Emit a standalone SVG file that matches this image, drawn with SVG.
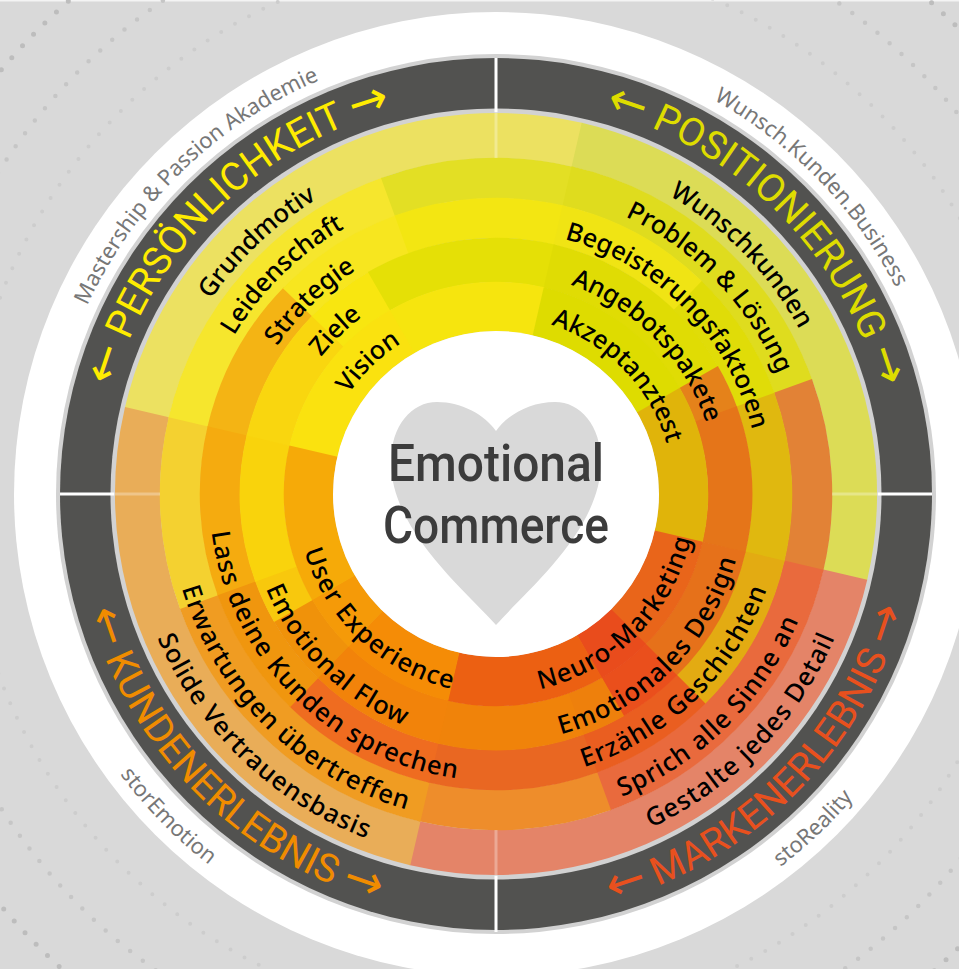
<svg xmlns="http://www.w3.org/2000/svg" width="959" height="969" viewBox="0 0 959 969">
<style>
.dot{fill:none;stroke-linecap:round;stroke-dasharray:0 16}
.seg{fill:none}
text{font-family:"Noto Sans",Roboto,sans-serif}
.l{font-size:25.5px;font-weight:500;fill:#000;text-anchor:middle}
.b{letter-spacing:1px}
.t{font-size:39px;text-anchor:middle;font-family:Roboto,sans-serif}
.a{font-family:"DejaVu Sans",sans-serif;font-size:47px}
.g{font-size:22px;fill:#777;text-anchor:middle}
.c{font-size:52px;font-weight:500;fill:#3c3c3c;text-anchor:middle;font-family:Roboto,sans-serif}
</style>
<defs>
<path id="t178" d="M318 494A178 178 0 0 1 674 494"/>
<path id="t222" d="M274 494A222 222 0 0 1 718 494"/>
<path id="t264" d="M232 494A264 264 0 0 1 760 494"/>
<path id="t306" d="M190 494A306 306 0 0 1 802 494"/>
<path id="t345" d="M151 494A345 345 0 0 1 841 494"/>
<path id="t398" d="M98 494A398 398 0 0 1 894 494"/>
<path id="t450" d="M46 494A450 450 0 0 1 946 494"/>
<path id="b200" d="M296 494A200 200 0 0 0 696 494"/>
<path id="b249" d="M247 494A249 249 0 0 0 745 494"/>
<path id="b287" d="M209 494A287 287 0 0 0 783 494"/>
<path id="b328" d="M168 494A328 328 0 0 0 824 494"/>
<path id="b368" d="M128 494A368 368 0 0 0 864 494"/>
<path id="b424" d="M72 494A424 424 0 0 0 920 494"/>
<path id="b469" d="M27 494A469 469 0 0 0 965 494"/>
</defs>
<rect width="959" height="969" fill="#d9d9d9"/>
<rect width="959" height="1.5" fill="#f4f4f4"/>
<g id="dots">
<circle class="dot" cx="499" cy="488" r="650" stroke="#bdbdbd" stroke-width="5"/>
<circle class="dot" cx="499" cy="488" r="592" stroke="#c6c6c6" stroke-width="4.5"/>
<circle class="dot" cx="499" cy="488" r="534" stroke="#cdcdcd" stroke-width="4"/>
</g>
<circle cx="496" cy="494" r="482" fill="#fff"/>
<circle cx="496" cy="494" r="440" fill="#d2d2d2"/>
<circle cx="496" cy="494" r="436" fill="#525250"/>
<circle cx="496" cy="494" r="385.5" fill="#d2d2d2"/>
<g id="ring-a" class="seg" stroke-width="45">
<circle cx="496" cy="494" r="358.5" pathLength="360" stroke-dasharray="90.2 360" stroke="#ece161" transform="rotate(193 496 494)" fill="none"/>
<circle cx="496" cy="494" r="358.5" pathLength="360" stroke-dasharray="90.2 360" stroke="#dcdc56" transform="rotate(-77 496 494)" fill="none"/>
<circle cx="496" cy="494" r="358.5" pathLength="360" stroke-dasharray="90.2 360" stroke="#e48468" transform="rotate(13 496 494)" fill="none"/>
<circle cx="496" cy="494" r="358.5" pathLength="360" stroke-dasharray="90.2 360" stroke="#e9ad58" transform="rotate(103 496 494)" fill="none"/>
</g>
<g id="ring-b" class="seg" stroke-width="40.5">
<circle cx="496" cy="494" r="316" pathLength="360" stroke-dasharray="57.2 360" stroke="#f6e62d" transform="rotate(193 496 494)" fill="none"/>
<circle cx="496" cy="494" r="316" pathLength="360" stroke-dasharray="33.2 360" stroke="#e3df24" transform="rotate(250 496 494)" fill="none"/>
<circle cx="496" cy="494" r="316" pathLength="360" stroke-dasharray="57.2 360" stroke="#dfdc1e" transform="rotate(-77 496 494)" fill="none"/>
<circle cx="496" cy="494" r="316" pathLength="360" stroke-dasharray="33.2 360" stroke="#e28236" transform="rotate(-20 496 494)" fill="none"/>
<circle cx="496" cy="494" r="316" pathLength="360" stroke-dasharray="57.2 360" stroke="#e96a3d" transform="rotate(13 496 494)" fill="none"/>
<circle cx="496" cy="494" r="316" pathLength="360" stroke-dasharray="33.2 360" stroke="#ee8d2b" transform="rotate(70 496 494)" fill="none"/>
<circle cx="496" cy="494" r="316" pathLength="360" stroke-dasharray="57.2 360" stroke="#f09c22" transform="rotate(103 496 494)" fill="none"/>
<circle cx="496" cy="494" r="316" pathLength="360" stroke-dasharray="33.2 360" stroke="#f4d130" transform="rotate(160 496 494)" fill="none"/>
</g>
<g id="ring-c" class="seg" stroke-width="40.5">
<circle cx="496" cy="494" r="276" pathLength="360" stroke-dasharray="31.2 360" stroke="#f4b414" transform="rotate(193 496 494)" fill="none"/>
<circle cx="496" cy="494" r="276" pathLength="360" stroke-dasharray="26.2 360" stroke="#f7e61f" transform="rotate(224 496 494)" fill="none"/>
<circle cx="496" cy="494" r="276" pathLength="360" stroke-dasharray="33.2 360" stroke="#f3e612" transform="rotate(250 496 494)" fill="none"/>
<circle cx="496" cy="494" r="276" pathLength="360" stroke-dasharray="31.2 360" stroke="#f0e414" transform="rotate(-77 496 494)" fill="none"/>
<circle cx="496" cy="494" r="276" pathLength="360" stroke-dasharray="26.2 360" stroke="#e0dc08" transform="rotate(-46 496 494)" fill="none"/>
<circle cx="496" cy="494" r="276" pathLength="360" stroke-dasharray="33.2 360" stroke="#e0b80f" transform="rotate(-20 496 494)" fill="none"/>
<circle cx="496" cy="494" r="276" pathLength="360" stroke-dasharray="32.2 360" stroke="#e3ab12" transform="rotate(13 496 494)" fill="none"/>
<circle cx="496" cy="494" r="276" pathLength="360" stroke-dasharray="25.2 360" stroke="#ea5e20" transform="rotate(45 496 494)" fill="none"/>
<circle cx="496" cy="494" r="276" pathLength="360" stroke-dasharray="33.2 360" stroke="#e96722" transform="rotate(70 496 494)" fill="none"/>
<circle cx="496" cy="494" r="276" pathLength="360" stroke-dasharray="31.2 360" stroke="#ef6c20" transform="rotate(103 496 494)" fill="none"/>
<circle cx="496" cy="494" r="276" pathLength="360" stroke-dasharray="26.2 360" stroke="#f0960e" transform="rotate(134 496 494)" fill="none"/>
<circle cx="496" cy="494" r="276" pathLength="360" stroke-dasharray="33.2 360" stroke="#f5ab0f" transform="rotate(160 496 494)" fill="none"/>
</g>
<g id="ring-d" class="seg" stroke-width="44.5">
<circle cx="496" cy="494" r="234" pathLength="360" stroke-dasharray="31.2 360" stroke="#f9d60f" transform="rotate(193 496 494)" fill="none"/>
<circle cx="496" cy="494" r="234" pathLength="360" stroke-dasharray="16.2 360" stroke="#f8e610" transform="rotate(224 496 494)" fill="none"/>
<circle cx="496" cy="494" r="234" pathLength="360" stroke-dasharray="43.2 360" stroke="#e5e006" transform="rotate(240 496 494)" fill="none"/>
<circle cx="496" cy="494" r="234" pathLength="360" stroke-dasharray="47.2 360" stroke="#e0dc04" transform="rotate(-77 496 494)" fill="none"/>
<circle cx="496" cy="494" r="234" pathLength="360" stroke-dasharray="10.2 360" stroke="#e5821a" transform="rotate(-30 496 494)" fill="none"/>
<circle cx="496" cy="494" r="234" pathLength="360" stroke-dasharray="33.2 360" stroke="#e57519" transform="rotate(-20 496 494)" fill="none"/>
<circle cx="496" cy="494" r="234" pathLength="360" stroke-dasharray="32.2 360" stroke="#e6711a" transform="rotate(13 496 494)" fill="none"/>
<circle cx="496" cy="494" r="234" pathLength="360" stroke-dasharray="15.2 360" stroke="#ea4f1c" transform="rotate(45 496 494)" fill="none"/>
<circle cx="496" cy="494" r="234" pathLength="360" stroke-dasharray="10.2 360" stroke="#ee800c" transform="rotate(60 496 494)" fill="none"/>
<circle cx="496" cy="494" r="234" pathLength="360" stroke-dasharray="33.2 360" stroke="#f0830a" transform="rotate(70 496 494)" fill="none"/>
<circle cx="496" cy="494" r="234" pathLength="360" stroke-dasharray="31.2 360" stroke="#f2830a" transform="rotate(103 496 494)" fill="none"/>
<circle cx="496" cy="494" r="234" pathLength="360" stroke-dasharray="16.2 360" stroke="#f0920a" transform="rotate(134 496 494)" fill="none"/>
<circle cx="496" cy="494" r="234" pathLength="360" stroke-dasharray="10.2 360" stroke="#f8c80d" transform="rotate(150 496 494)" fill="none"/>
<circle cx="496" cy="494" r="234" pathLength="360" stroke-dasharray="33.2 360" stroke="#f9d30c" transform="rotate(160 496 494)" fill="none"/>
</g>
<g id="ring-e" class="seg" stroke-width="49.5">
<circle cx="496" cy="494" r="187.5" pathLength="360" stroke-dasharray="47.2 360" stroke="#fae20f" transform="rotate(193 496 494)" fill="none"/>
<circle cx="496" cy="494" r="187.5" pathLength="360" stroke-dasharray="43.2 360" stroke="#f6e50e" transform="rotate(240 496 494)" fill="none"/>
<circle cx="496" cy="494" r="187.5" pathLength="360" stroke-dasharray="47.2 360" stroke="#dedc00" transform="rotate(-77 496 494)" fill="none"/>
<circle cx="496" cy="494" r="187.5" pathLength="360" stroke-dasharray="43.2 360" stroke="#e0b40a" transform="rotate(-30 496 494)" fill="none"/>
<circle cx="496" cy="494" r="187.5" pathLength="360" stroke-dasharray="32.2 360" stroke="#e9651a" transform="rotate(13 496 494)" fill="none"/>
<circle cx="496" cy="494" r="187.5" pathLength="360" stroke-dasharray="15.2 360" stroke="#e94c1c" transform="rotate(45 496 494)" fill="none"/>
<circle cx="496" cy="494" r="187.5" pathLength="360" stroke-dasharray="43.2 360" stroke="#ec6012" transform="rotate(60 496 494)" fill="none"/>
<circle cx="496" cy="494" r="187.5" pathLength="360" stroke-dasharray="31.2 360" stroke="#f58c06" transform="rotate(103 496 494)" fill="none"/>
<circle cx="496" cy="494" r="187.5" pathLength="360" stroke-dasharray="16.2 360" stroke="#f59a08" transform="rotate(134 496 494)" fill="none"/>
<circle cx="496" cy="494" r="187.5" pathLength="360" stroke-dasharray="43.2 360" stroke="#f6aa08" transform="rotate(150 496 494)" fill="none"/>
</g>
<circle cx="496" cy="494" r="163" fill="#fff"/>
<path id="heart" fill="#d9d9d9" d="M496 625C465 590 391 530 391 462C391 425 412 402 437 402C462 402 485 415 496 431C507 415 530 402 555 402C580 402 601 425 601 462C601 530 527 590 496 625Z"/>
<g id="cross">
<path d="M496 112V158M496 830V876M114 494H160M832 494H878" fill="none" stroke="#fff" stroke-width="3" stroke-opacity=".3"/>
<path d="M496 58V112M496 876V932M60 494H114M878 494H932" fill="none" stroke="#fff" stroke-width="3"/>
</g>
<g id="center-label">
<text class="c" x="496" y="481" textLength="216" lengthAdjust="spacingAndGlyphs">Emotional</text>
<text class="c" x="496" y="543" textLength="226" lengthAdjust="spacingAndGlyphs">Commerce</text>
</g>
<g id="labels-persoenlichkeit">
<text class="l" transform="rotate(-43.5 496 494)"><textPath href="#t345" startOffset="50%">Grundmotiv</textPath></text>
<text class="l" transform="rotate(-44.3 496 494)"><textPath href="#t306" startOffset="50%">Leidenschaft</textPath></text>
<text class="l" transform="rotate(-44 496 494)"><textPath href="#t264" startOffset="50%">Strategie</textPath></text>
<text class="l" transform="rotate(-44.5 496 494)"><textPath href="#t222" startOffset="50%">Ziele</textPath></text>
<text class="l" transform="rotate(-44 496 494)"><textPath href="#t178" startOffset="50%">Vision</textPath></text>
</g>
<g id="labels-positionierung">
<text class="l" transform="rotate(45.8 496 494)"><textPath href="#t345" startOffset="50%">Wunschkunden</textPath></text>
<text class="l" transform="rotate(46 496 494)"><textPath href="#t306" startOffset="50%">Problem &amp; Lösung</textPath></text>
<text class="l" transform="rotate(45.5 496 494)"><textPath href="#t264" startOffset="50%">Begeisterungsfaktoren</textPath></text>
<text class="l" transform="rotate(45.5 496 494)"><textPath href="#t222" startOffset="50%">Angebotspakete</textPath></text>
<text class="l" transform="rotate(45.8 496 494)"><textPath href="#t178" startOffset="50%">Akzeptanztest</textPath></text>
</g>
<g id="labels-markenerlebnis">
<text class="l b" transform="rotate(-45 496 494)"><textPath href="#b200" startOffset="50%">Neuro-Marketing</textPath></text>
<text class="l b" transform="rotate(-45 496 494)"><textPath href="#b249" startOffset="50%">Emotionales Design</textPath></text>
<text class="l b" transform="rotate(-44.3 496 494)"><textPath href="#b287" startOffset="50%">Erzähle Geschichten</textPath></text>
<text class="l b" transform="rotate(-45 496 494)"><textPath href="#b328" startOffset="50%">Sprich alle Sinne an</textPath></text>
<text class="l b" transform="rotate(-46 496 494)"><textPath href="#b368" startOffset="50%">Gestalte jedes Detail</textPath></text>
</g>
<g id="labels-kundenerlebnis">
<text class="l b" transform="rotate(43 496 494)"><textPath href="#b200" startOffset="50%">User Experience</textPath></text>
<text class="l b" transform="rotate(44.6 496 494)"><textPath href="#b249" startOffset="50%">Emotional Flow</textPath></text>
<text class="l b" transform="rotate(45 496 494)"><textPath href="#b287" startOffset="50%">Lass deine Kunden sprechen</textPath></text>
<text class="l b" transform="rotate(44.5 496 494)"><textPath href="#b328" startOffset="50%">Erwartungen übertreffen</textPath></text>
<text class="l b" transform="rotate(43.7 496 494)"><textPath href="#b368" startOffset="50%">Solide Vertrauensbasis</textPath></text>
</g>
<g id="titles">
<text class="t" fill="#ffec00" transform="rotate(-44.8 496 494)"><textPath href="#t398" startOffset="50%"><tspan class="a">←</tspan> PERSÖNLICHKEIT <tspan class="a">→</tspan></textPath></text>
<text class="t" fill="#dedc00" transform="rotate(45.2 496 494)"><textPath href="#t398" startOffset="50%"><tspan class="a">←</tspan> POSITIONIERUNG <tspan class="a">→</tspan></textPath></text>
<text class="t" fill="#e8501e" transform="rotate(-45 496 494)"><textPath href="#b424" startOffset="50%"><tspan class="a">←</tspan> MARKENERLEBNIS <tspan class="a">→</tspan></textPath></text>
<text class="t" fill="#f08c00" transform="rotate(45 496 494)"><textPath href="#b424" startOffset="50%"><tspan class="a">←</tspan> KUNDENERLEBNIS <tspan class="a">→</tspan></textPath></text>
</g>
<g id="sources">
<text class="g" transform="rotate(-44.2 496 494)"><textPath href="#t450" startOffset="50%">Mastership &amp; Passion Akademie</textPath></text>
<text class="g" transform="rotate(45.8 496 494)"><textPath href="#t450" startOffset="50%">Wunsch.Kunden.Business</textPath></text>
<text class="g" transform="rotate(-43.5 496 494)"><textPath href="#b469" startOffset="50%">stoReality</textPath></text>
<text class="g" transform="rotate(45.5 496 494)"><textPath href="#b469" startOffset="50%">storEmotion</textPath></text>
</g>
</svg>
